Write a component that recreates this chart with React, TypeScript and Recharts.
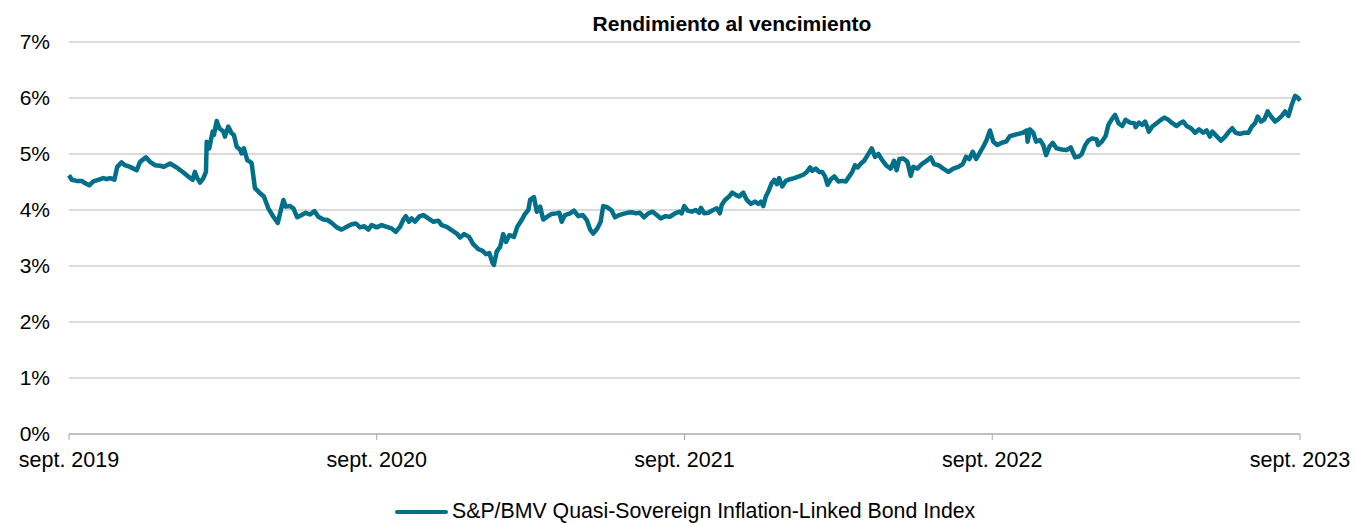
import { CartesianGrid, Line, LineChart, XAxis, YAxis } from "recharts";

// months since sept. 2019
const months = [
  0, 0.11, 0.3, 0.5, 0.62, 0.79, 0.95, 1.14, 1.34, 1.47, 1.6, 1.77, 1.88, 2.05, 2.18, 2.38, 2.64, 2.77, 3.0, 3.16,
  3.35, 3.55, 3.7, 3.94, 4.2, 4.46, 4.65, 4.82, 4.91, 5.0, 5.11, 5.24, 5.34, 5.37, 5.47, 5.6, 5.65, 5.76, 5.86, 6.02,
  6.08, 6.21, 6.34, 6.43, 6.54, 6.67, 6.73, 6.82, 6.95, 7.12, 7.25, 7.45, 7.6,
  7.77, 7.97, 8.14, 8.23, 8.36, 8.45, 8.62, 8.75, 8.9, 9.07, 9.23, 9.4, 9.57, 9.72, 9.92, 10.09, 10.24, 10.44, 10.63, 10.83,
  11.0, 11.18, 11.35, 11.51, 11.67, 11.8, 12.0, 12.19, 12.39, 12.58, 12.74, 12.91, 13.04, 13.13, 13.26, 13.36, 13.49, 13.65, 13.82, 14.01,
  14.21, 14.4, 14.53, 14.73, 14.92, 15.12, 15.25, 15.41, 15.6, 15.76,
  15.96, 16.13, 16.26, 16.39, 16.52, 16.57, 16.68, 16.81, 16.93, 17.04, 17.17, 17.35, 17.48, 17.65, 17.78, 17.91, 17.98, 18.13, 18.24, 18.37,
  18.49, 18.65, 18.82, 18.99, 19.12, 19.21, 19.34, 19.54, 19.69, 19.86, 20.03, 20.19, 20.32, 20.44, 20.6, 20.73, 20.83, 20.99, 21.16, 21.29,
  21.46, 21.61, 21.77, 21.94, 22.11, 22.26, 22.42, 22.59, 22.76, 22.92, 23.07, 23.24, 23.44, 23.63, 23.8,
  23.89, 23.99, 24.12, 24.28, 24.44, 24.57, 24.64, 24.77, 24.93, 25.08, 25.26, 25.38, 25.45, 25.58, 25.74, 25.86, 26.0, 26.13, 26.29, 26.43,
  26.59, 26.75, 26.88, 26.98, 27.07, 27.17, 27.27, 27.4, 27.5, 27.6, 27.69, 27.81, 27.95, 28.11, 28.28, 28.47, 28.63, 28.77, 28.9, 28.98,
  29.12, 29.25, 29.37, 29.48, 29.58, 29.71, 29.84, 30.0, 30.15, 30.29, 30.42, 30.54, 30.65, 30.75, 30.88, 31.01, 31.14, 31.3, 31.43, 31.56, 31.71,
  31.88, 32.04, 32.17, 32.27, 32.38, 32.53, 32.69, 32.82, 32.92, 33.08, 33.25, 33.45, 33.6, 33.73, 33.9, 34.09, 34.29, 34.48, 34.68, 34.85,
  34.98, 35.11, 35.24, 35.37, 35.5, 35.65, 35.78, 35.91, 36.04, 36.2, 36.37, 36.54, 36.69, 36.85, 37.02, 37.19, 37.34, 37.38, 37.47, 37.6,
  37.71, 37.86, 37.99, 38.1, 38.23, 38.36, 38.51, 38.71, 38.9, 39.06, 39.23, 39.4, 39.49, 39.62, 39.75,
  39.9, 40.07, 40.13, 40.27, 40.42, 40.53, 40.66, 40.79, 40.92, 41.07, 41.2, 41.37, 41.54, 41.59, 41.72, 41.85, 41.96, 42.11, 42.24, 42.41,
  42.58, 42.71, 42.87, 43.02, 43.19, 43.32, 43.45, 43.58, 43.75, 43.91, 44.06, 44.23, 44.36, 44.49, 44.58, 44.75, 44.92, 45.08, 45.23, 45.36,
  45.49, 45.66, 45.83, 45.99, 46.12, 46.25, 46.35, 46.48, 46.61, 46.74, 46.87, 47.03, 47.15, 47.29, 47.42, 47.55, 47.68, 47.81, 47.93, 48.0,
];

// yield to maturity, %
const yields = [
  4.62, 4.54, 4.52, 4.52, 4.48, 4.44, 4.51, 4.54, 4.57, 4.55, 4.57, 4.54, 4.77, 4.85, 4.8, 4.77, 4.71, 4.86, 4.94, 4.86,
  4.8, 4.79, 4.77, 4.83, 4.76, 4.67, 4.6, 4.54, 4.68, 4.57, 4.49, 4.57, 4.68, 5.22, 5.1, 5.4, 5.34, 5.59, 5.46, 5.4,
  5.31, 5.49, 5.37, 5.34, 5.13, 5.08, 5.01, 5.1, 4.89, 4.84, 4.39, 4.3, 4.24,
  4.03, 3.88, 3.77, 3.94, 4.18, 4.06, 4.07, 4.03, 3.87, 3.91, 3.95, 3.92, 3.98, 3.88, 3.83, 3.82, 3.77, 3.69, 3.65, 3.7,
  3.74, 3.76, 3.69, 3.71, 3.65, 3.73, 3.69, 3.73, 3.7, 3.67, 3.61, 3.7, 3.83, 3.89, 3.79, 3.85, 3.79, 3.88, 3.91, 3.85,
  3.79, 3.81, 3.73, 3.7, 3.64, 3.58, 3.51, 3.57, 3.52, 3.39,
  3.3, 3.27, 3.21, 3.23, 3.05, 3.02, 3.26, 3.34, 3.57, 3.43, 3.55, 3.52, 3.7, 3.82, 3.93, 4.0, 4.18, 4.23, 3.97, 4.06,
  3.83, 3.88, 3.93, 3.94, 3.95, 3.79, 3.91, 3.94, 3.99, 3.89, 3.91, 3.82, 3.65, 3.58, 3.67, 3.79, 4.07, 4.05, 3.99, 3.87,
  3.91, 3.93, 3.95, 3.96, 3.94, 3.95, 3.87, 3.94, 3.97, 3.91, 3.85, 3.89, 3.88, 3.94, 3.97,
  3.94, 4.07, 3.99, 3.97, 4.0, 3.95, 4.04, 3.94, 3.95, 3.99, 4.03, 3.94, 4.09, 4.18, 4.24, 4.31, 4.27, 4.24, 4.31, 4.18,
  4.11, 4.15, 4.11, 4.15, 4.07, 4.24, 4.33, 4.48, 4.54, 4.46, 4.57, 4.42, 4.52, 4.55, 4.57, 4.6, 4.63, 4.68, 4.76, 4.7,
  4.74, 4.68, 4.68, 4.6, 4.45, 4.55, 4.6, 4.51, 4.52, 4.51, 4.6, 4.68, 4.8, 4.76, 4.83, 4.88, 4.98, 5.1, 4.95, 5.0, 4.89,
  4.79, 4.74, 4.88, 4.71, 4.91, 4.92, 4.86, 4.61, 4.77, 4.74, 4.82, 4.88, 4.94, 4.82, 4.8, 4.74, 4.68, 4.74, 4.77, 4.82,
  4.95, 4.91, 5.04, 4.91, 5.01, 5.13, 5.25, 5.42, 5.22, 5.16, 5.2, 5.22, 5.32, 5.34, 5.36, 5.38, 5.42, 5.22, 5.44, 5.38,
  5.22, 5.25, 5.16, 4.98, 5.13, 5.2, 5.1, 5.08, 5.07, 5.12, 4.94, 4.96, 5.0, 5.15, 5.24,
  5.28, 5.26, 5.16, 5.22, 5.32, 5.52, 5.62, 5.7, 5.55, 5.5, 5.61, 5.56, 5.55, 5.48, 5.56, 5.52, 5.58, 5.4, 5.49, 5.55,
  5.61, 5.65, 5.61, 5.55, 5.5, 5.55, 5.58, 5.5, 5.46, 5.38, 5.44, 5.38, 5.42, 5.31, 5.4, 5.32, 5.24, 5.31, 5.4, 5.46,
  5.38, 5.36, 5.38, 5.38, 5.49, 5.55, 5.67, 5.58, 5.62, 5.76, 5.67, 5.58, 5.62, 5.68, 5.76, 5.68, 5.88, 6.04, 6.0, 5.95,
];

const xTickMonths = [0, 12, 24, 36, 48];
const xTickLabels = ["sept. 2019", "sept. 2020", "sept. 2021", "sept. 2022", "sept. 2023"];
const yTicks = [0, 1, 2, 3, 4, 5, 6, 7];

const seriesName = "S&P/BMV Quasi-Sovereign Inflation-Linked Bond Index";
const title = "Rendimiento al vencimiento";

const LINE = "#006f89";
const FONT = '"Liberation Sans", Arial, sans-serif';

const rows = months.map((t, i) => ({ t, y: yields[i] }));

export default function App() {
  return (
    <div style={{ position: "absolute", left: 0, top: 0, width: 1356, height: 523, background: "#fff", fontFamily: FONT }}>
      <div
        style={{
          position: "absolute",
          left: 432,
          top: 12,
          width: 600,
          textAlign: "center",
          fontWeight: "bold",
          fontSize: 21,
          lineHeight: "24px",
          color: "#000",
        }}
      >
        {title}
      </div>
      <LineChart width={1356} height={523} data={rows} margin={{ top: 42, right: 56, left: 0, bottom: 49 }}>
        <CartesianGrid vertical={false} stroke="#b5b5b5" strokeWidth={1} />
        <XAxis
          dataKey="t"
          type="number"
          domain={[0, 48]}
          ticks={xTickMonths}
          tickFormatter={(v) => xTickLabels[xTickMonths.indexOf(v)] ?? ""}
          height={40}
          stroke="#a6a6a6"
          tickSize={6}
          tickMargin={12}
          tick={{ fill: "#000", fontSize: 21.5, fontFamily: FONT }}
          interval={0}
        />
        <YAxis
          domain={[0, 7]}
          ticks={yTicks}
          tickFormatter={(v) => `${v}%`}
          width={69}
          axisLine={false}
          tickLine={false}
          tickSize={0}
          tickMargin={19}
          tick={{ fill: "#000", fontSize: 21, fontFamily: FONT }}
          interval={0}
        />
        <Line
          type="linear"
          dataKey="y"
          stroke={LINE}
          strokeWidth={4.5}
          strokeLinejoin="round"
          dot={false}
          activeDot={false}
          isAnimationActive={false}
        />
      </LineChart>
      <div
        style={{
          position: "absolute",
          left: 395,
          top: 499,
          height: 25,
          display: "flex",
          alignItems: "center",
          fontSize: 21.3,
          color: "#000",
          whiteSpace: "nowrap",
        }}
      >
        <span style={{ display: "inline-block", width: 53, height: 4, borderRadius: 2, background: LINE, marginRight: 4 }} />
        {seriesName}
      </div>
    </div>
  );
}
